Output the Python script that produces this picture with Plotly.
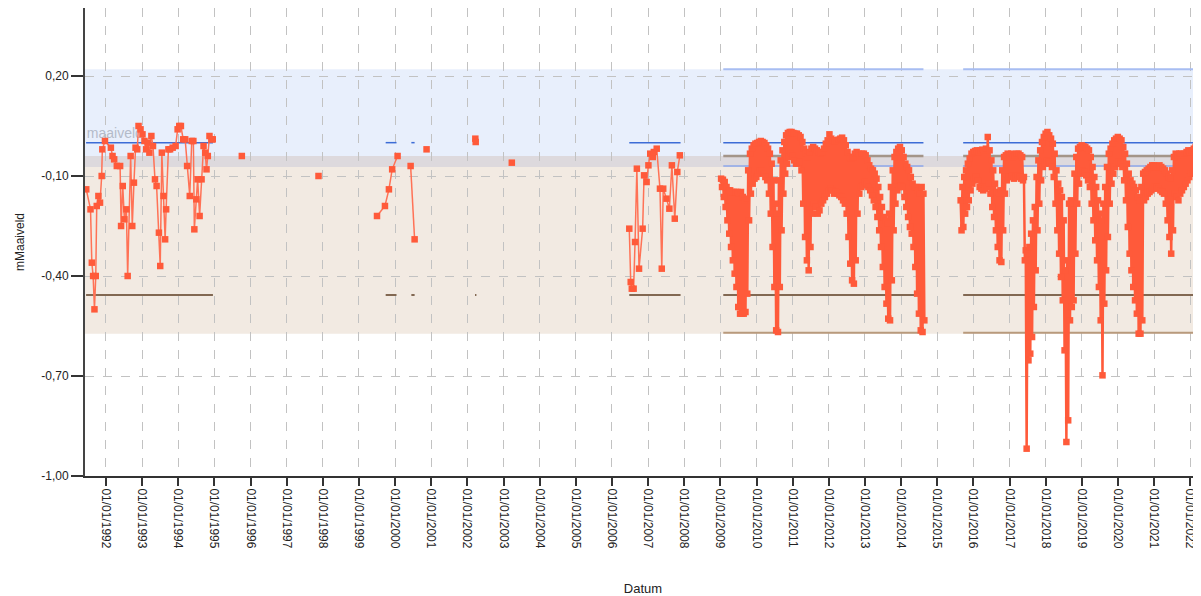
import math
from datetime import datetime
import plotly.graph_objects as go

# ---------------- data ----------------
# early sparse series (decimal year, mMaaiveld)
early_t = [1991.455, 1991.573, 1991.609, 1991.645, 1991.682, 1991.718, 1991.745, 1991.791, 1991.836, 1991.882,
           1991.900, 1991.973, 1992.136, 1992.182, 1992.227, 1992.300, 1992.391, 1992.418, 1992.464, 1992.509,
           1992.564, 1992.600, 1992.682, 1992.727, 1992.773, 1992.818, 1992.864, 1992.900, 1992.955, 1993.009,
           1993.064, 1993.109, 1993.155, 1993.200, 1993.255, 1993.300, 1993.355, 1993.400, 1993.464, 1993.500,
           1993.545, 1993.591, 1993.636, 1993.664, 1993.727, 1993.773, 1993.845, 1993.927, 1993.982, 1994.027,
           1994.073, 1994.136, 1994.191, 1994.245, 1994.318, 1994.373, 1994.418, 1994.445, 1994.500, 1994.536,
           1994.591, 1994.645, 1994.700, 1994.745, 1994.782, 1994.818, 1994.864, 1994.918, 1994.955]
early_v = [-0.14, -0.20, -0.36, -0.40, -0.50, -0.40, -0.19, -0.16, -0.18, -0.10,
           -0.02, 0.005, -0.015, -0.04, -0.05, -0.07, -0.07, -0.25, -0.13, -0.23,
           -0.20, -0.40, -0.04, -0.25, -0.12, -0.015, -0.02, 0.05, 0.04, 0.025,
           0.005, -0.02, 0.0, -0.03, 0.02, -0.01, -0.11, -0.13, -0.27, -0.37,
           -0.03, -0.16, -0.29, -0.20, -0.02, -0.02, -0.015, -0.01, 0.04, 0.05,
           0.05, 0.01, 0.01, -0.07, -0.16, 0.005, 0.005, -0.26, -0.17, -0.11,
           -0.22, -0.11, -0.01, -0.03, -0.08, -0.04, 0.02, 0.01, 0.01]

# isolated / short groups of measurements 1995-2003
sparse_groups_t = [[1995.76], [1997.88],
                   [1999.50, 1999.72, 1999.83, 1999.92, 2000.07],
                   [2000.43, 2000.54], [2000.87], [2002.22, 2002.23], [2003.23]]
sparse_groups_v = [[-0.04], [-0.10],
                   [-0.22, -0.19, -0.14, -0.08, -0.04],
                   [-0.07, -0.29], [-0.02], [0.012, 0.002], [-0.06]]

# 2006-2007 series
mid_t = [2006.48, 2006.52, 2006.55, 2006.60, 2006.64, 2006.69, 2006.75, 2006.85, 2006.89, 2006.96,
         2007.01, 2007.06, 2007.13, 2007.16, 2007.24, 2007.33, 2007.38, 2007.42, 2007.51, 2007.59,
         2007.66, 2007.74, 2007.81, 2007.88]
mid_v = [-0.258, -0.418, -0.438, -0.438, -0.298, -0.078, -0.378, -0.258, -0.098, -0.118,
         -0.068, -0.033, -0.043, -0.028, -0.018, -0.138, -0.378, -0.138, -0.168, -0.198,
         -0.068, -0.228, -0.088, -0.038]

# dense logger series: per time step, upper and lower reading
dense_a_start, dense_step = 2009.02, 0.05
dense_a_hi = [-0.108, -0.111, -0.118, -0.133, -0.143, -0.143, -0.148, -0.148, -0.148, -0.148,
              -0.153, -0.148, -0.163, -0.173, -0.168, -0.083, -0.033, -0.018, -0.008, -0.003,
              -0.001, 0.002, 0.005, 0.002, -0.001, -0.008, -0.018, -0.033, -0.063, -0.113,
              -0.183, -0.213, -0.113, -0.053, -0.023, 0.002, 0.022, 0.029, 0.032, 0.032,
              0.029, 0.027, 0.027, 0.022, 0.017, 0.002, -0.018, -0.033, -0.043, -0.028,
              -0.018, -0.013, -0.018, -0.023, -0.028, -0.033, -0.028, -0.018, -0.003, 0.007,
              0.025, 0.012, 0.007, 0.005, 0.007, 0.009, 0.012, 0.015, 0.007, -0.008,
              -0.028, -0.043, -0.048, -0.043, -0.033, -0.028, -0.033, -0.038, -0.033, -0.033,
              -0.038, -0.053, -0.068, -0.078, -0.083, -0.093, -0.108, -0.133, -0.163, -0.193,
              -0.223, -0.233, -0.243, -0.213, -0.133, -0.083, -0.043, -0.028, -0.018, -0.013,
              -0.023, -0.043, -0.063, -0.073, -0.083, -0.103, -0.123, -0.133, -0.133, -0.143,
              -0.153, -0.133, -0.153]
dense_a_lo = [-0.133, -0.163, -0.193, -0.233, -0.273, -0.313, -0.353, -0.393, -0.433, -0.493,
              -0.513, -0.513, -0.513, -0.508, -0.453, -0.233, -0.153, -0.123, -0.108, -0.103,
              -0.093, -0.083, -0.083, -0.093, -0.103, -0.113, -0.153, -0.213, -0.313, -0.433,
              -0.563, -0.568, -0.433, -0.263, -0.153, -0.093, -0.063, -0.043, -0.033, -0.038,
              -0.053, -0.063, -0.063, -0.058, -0.083, -0.183, -0.283, -0.353, -0.383, -0.313,
              -0.213, -0.183, -0.193, -0.213, -0.203, -0.183, -0.173, -0.163, -0.153, -0.143,
              -0.138, -0.143, -0.153, -0.148, -0.153, -0.158, -0.163, -0.173, -0.183, -0.213,
              -0.283, -0.363, -0.413, -0.423, -0.353, -0.213, -0.153, -0.133, -0.128, -0.118,
              -0.123, -0.133, -0.143, -0.158, -0.173, -0.193, -0.223, -0.263, -0.313, -0.373,
              -0.433, -0.483, -0.528, -0.533, -0.413, -0.263, -0.183, -0.143, -0.133, -0.128,
              -0.133, -0.163, -0.193, -0.223, -0.253, -0.273, -0.313, -0.373, -0.453, -0.513,
              -0.563, -0.568, -0.533]

dense_b_start = 2015.65
dense_b_hi = [-0.173, -0.133, -0.103, -0.083, -0.063, -0.048, -0.033, -0.028, -0.025, -0.023,
              -0.028, -0.023, -0.021, -0.023, -0.018, 0.017, -0.023, -0.053, -0.083, -0.123,
              -0.148, -0.153, -0.143, -0.083, -0.043, -0.038, -0.033, -0.038, -0.033, -0.043,
              -0.038, -0.033, -0.033, -0.038, -0.043, -0.103, -0.323, -0.333, -0.313, -0.273,
              -0.233, -0.193, -0.103, -0.053, -0.023, 0.002, 0.017, 0.027, 0.032, 0.022,
              0.012, -0.003, -0.033, -0.083, -0.123, -0.143, -0.163, -0.233, -0.383, -0.353,
              -0.183, -0.173, -0.183, -0.093, -0.043, -0.018, -0.013, -0.008, -0.011, -0.013,
              -0.018, -0.023, -0.043, -0.073, -0.103, -0.133, -0.173, -0.213, -0.233, -0.183,
              -0.133, -0.073, -0.033, -0.018, -0.003, 0.007, 0.012, 0.017, 0.012, 0.007,
              -0.013, -0.033, -0.063, -0.093, -0.113, -0.123, -0.133, -0.143, -0.163, -0.173,
              -0.133, -0.093, -0.088, -0.083, -0.078, -0.073, -0.068, -0.068, -0.073, -0.073,
              -0.068, -0.073, -0.078, -0.083, -0.093, -0.103, -0.108, -0.083, -0.043, -0.033,
              -0.038, -0.033, -0.033, -0.038, -0.033, -0.028, -0.023, -0.028, -0.023, -0.018,
              -0.013, -0.008, -0.003]
dense_b_lo = [-0.263, -0.253, -0.213, -0.193, -0.173, -0.143, -0.123, -0.108, -0.103, -0.113,
              -0.133, -0.138, -0.143, -0.138, -0.133, -0.123, -0.153, -0.193, -0.223, -0.263,
              -0.313, -0.353, -0.358, -0.263, -0.153, -0.113, -0.103, -0.103, -0.098, -0.108,
              -0.103, -0.098, -0.103, -0.108, -0.113, -0.353, -0.918, -0.653, -0.633, -0.583,
              -0.493, -0.383, -0.263, -0.183, -0.113, -0.073, -0.063, -0.053, -0.058, -0.063,
              -0.073, -0.103, -0.183, -0.263, -0.333, -0.403, -0.473, -0.623, -0.898, -0.833,
              -0.533, -0.493, -0.473, -0.333, -0.183, -0.123, -0.093, -0.083, -0.088, -0.098,
              -0.113, -0.133, -0.183, -0.233, -0.293, -0.353, -0.433, -0.533, -0.698, -0.483,
              -0.383, -0.283, -0.183, -0.123, -0.093, -0.073, -0.063, -0.058, -0.063, -0.073,
              -0.113, -0.173, -0.253, -0.333, -0.383, -0.433, -0.473, -0.513, -0.573, -0.573,
              -0.533, -0.173, -0.163, -0.153, -0.148, -0.143, -0.138, -0.133, -0.133, -0.138,
              -0.143, -0.148, -0.153, -0.183, -0.233, -0.283, -0.333, -0.263, -0.153, -0.163,
              -0.173, -0.153, -0.143, -0.133, -0.123, -0.113, -0.103, -0.093, -0.093, -0.083,
              -0.073, -0.053, -0.043]

# reference levels (mMaaiveld) and the periods in which they are drawn
maaiveld_level = 0.0
brown_level = -0.457
upper_levels = [0.22, -0.04, -0.07, -0.57]
periods_basic = [(1991.45, 1994.96), (1999.74, 2000.04), (2000.45, 2000.54), (2002.21, 2002.25),
                 (2006.48, 2007.90), (2009.08, 2014.62), (2015.72, 2022.35)]
periods_full = [(2009.08, 2014.62), (2015.72, 2022.35)]

# background bands (lower, upper)
band_blue = (-0.04, 0.22)
band_gray = (-0.073, -0.04)
band_beige = (-0.573, -0.073)

x_start, x_end = 1991.42, 2022.30
y_ticks = [0.20, -0.10, -0.40, -0.70, -1.00]
y_tick_text = ["0,20", "-0,10", "-0,40", "-0,70", "-1,00"]


def dy(y):
    yr = int(math.floor(y))
    a = datetime(yr, 1, 1)
    b = datetime(yr + 1, 1, 1)
    return a + (b - a) * (y - yr)


def zigzag(start, step, hi, lo):
    xs, ys = [], []
    for i, (h, l) in enumerate(zip(hi, lo)):
        t = start + i * step
        xs += [dy(t), dy(t + step / 2)]
        ys += [h, l]
    return xs, ys


def segs(periods, level):
    xs, ys = [], []
    for a, b in periods:
        xs += [dy(a), dy(b), None]
        ys += [level, level, None]
    return xs, ys


MARK = "#FF5A3A"
LINE = "#FF7256"

fig = go.Figure()

# label for the maaiveld line (drawn below data)
fig.add_trace(go.Scatter(x=[dy(1991.47)], y=[maaiveld_level + 0.004], mode="text", text=["maaiveld"],
                         textposition="top right", textfont=dict(size=14, color="#B4BBC9",
                                                                   family="Liberation Sans"),
                         hoverinfo="skip", showlegend=False))

# reference lines
line_styles = [("#A7BDF2", 2), ("#A39589", 2.5), ("#8DA6E8", 1.5), ("#B89A7C", 2)]
for lvl, (col, w) in zip(upper_levels, line_styles):
    xs, ys = segs(periods_full, lvl)
    fig.add_trace(go.Scatter(x=xs, y=ys, mode="lines", line=dict(color=col, width=w),
                             hoverinfo="skip", showlegend=False))
xs, ys = segs(periods_basic, maaiveld_level)
fig.add_trace(go.Scatter(x=xs, y=ys, mode="lines", line=dict(color="#3C6CD6", width=1.5),
                         hoverinfo="skip", showlegend=False))
xs, ys = segs(periods_basic, brown_level)
fig.add_trace(go.Scatter(x=xs, y=ys, mode="lines", line=dict(color="#5C3D22", width=1.5),
                         hoverinfo="skip", showlegend=False))

marker = dict(symbol="square", size=6.5, color=MARK, line=dict(width=0))

# early series
fig.add_trace(go.Scatter(x=[dy(t) for t in early_t], y=early_v, mode="lines+markers",
                         line=dict(color=LINE, width=1.5), marker=marker, showlegend=False))
# sparse groups
sx, sy = [], []
for ts, vs in zip(sparse_groups_t, sparse_groups_v):
    sx += [dy(t) for t in ts] + [None]
    sy += list(vs) + [None]
fig.add_trace(go.Scatter(x=sx, y=sy, mode="lines+markers", line=dict(color=LINE, width=1.5),
                         marker=marker, showlegend=False, connectgaps=False))
# 2006-2007
fig.add_trace(go.Scatter(x=[dy(t) for t in mid_t], y=mid_v, mode="lines+markers",
                         line=dict(color=LINE, width=1.5), marker=marker, showlegend=False))
# dense sections
for start, hi, lo in [(dense_a_start, dense_a_hi, dense_a_lo), (dense_b_start, dense_b_hi, dense_b_lo)]:
    xs, ys = zigzag(start, dense_step, hi, lo)
    fig.add_trace(go.Scatter(x=xs, y=ys, mode="lines+markers", line=dict(color=MARK, width=2.5),
                             marker=marker, showlegend=False))

shapes = []
for (lo, hi), col in [(band_blue, "#E8EFFC"), (band_gray, "#DDD9DD"), (band_beige, "#F2EAE2")]:
    shapes.append(dict(type="rect", xref="paper", yref="y", x0=0, x1=1, y0=lo, y1=hi,
                       fillcolor=col, line=dict(width=0), layer="between"))

# the page body adds an 8px offset; the figure is sized to fill the remaining window
fig.update_layout(
    width=1193, height=588,
    margin=dict(l=77, r=0, t=0, b=120),
    plot_bgcolor="white", paper_bgcolor="white",
    font=dict(family="Liberation Sans", size=12, color="#222"),
    shapes=shapes,
    showlegend=False,
    xaxis=dict(
        type="date", range=[dy(x_start), dy(x_end)], automargin=False,
        tick0="1992-01-01", dtick="M12", tickformat="%d/%m/%Y", tickangle=90,
        ticks="outside", ticklen=8, tickwidth=1.5, tickcolor="#333",
        showline=True, linecolor="#333", linewidth=2,
        showgrid=True, gridcolor="#C2C2C2", griddash="dash", gridwidth=1,
        zeroline=False, tickfont=dict(size=12, color="#222"),
        title=dict(text="Datum", standoff=36, font=dict(size=13, color="#222")),
    ),
    yaxis=dict(
        range=[-1.0, 0.404], tickvals=y_ticks, ticktext=y_tick_text, automargin=False,
        ticks="outside", ticklen=12, tickwidth=2, tickcolor="#333",
        showline=True, linecolor="#444", linewidth=2,
        showgrid=True, gridcolor="#C2C2C2", griddash="dash", gridwidth=1,
        zeroline=False, tickfont=dict(size=12, color="#222"),
        title=dict(text="mMaaiveld", standoff=14, font=dict(size=12, color="#222")),
    ),
)

fig.write_html("out.html")
